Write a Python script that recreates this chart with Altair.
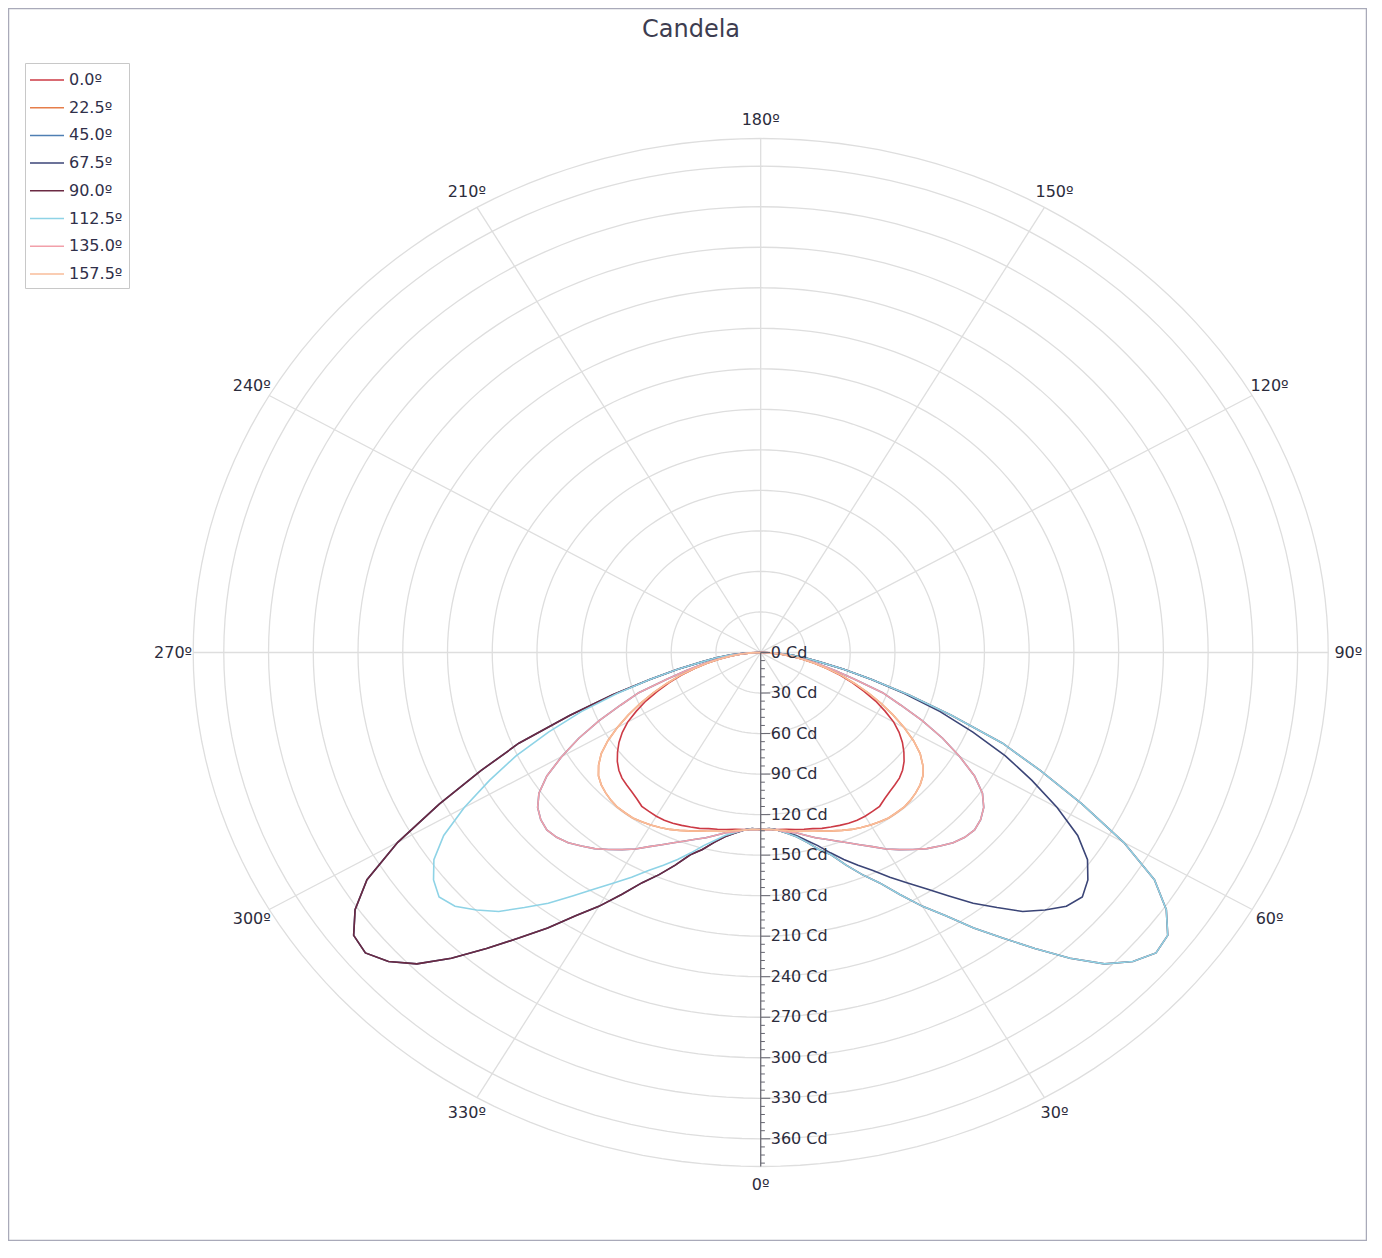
import altair as alt
import pandas as pd

TITLE = "Candela"
PLANES = ["0.0º", "22.5º", "45.0º", "67.5º", "90.0º", "112.5º", "135.0º", "157.5º"]
COLORS = ["#cc3a45", "#e67e4a", "#4f7fb3", "#3b4577", "#6b2a43", "#8ed3e6", "#f2a0aa", "#f9bd9a"]

# vertical angle (gamma) of each reading, degrees from nadir
GAMMA = [0, 2.5, 5, 7.5, 10, 12.5, 15, 17.5, 20, 22.5, 25, 27.5, 30, 32.5, 35, 37.5,
         40, 42.5, 45, 47.5, 50, 52.5, 55, 57.5, 60, 62.5, 65, 67.5, 70, 72.5, 75,
         77.5, 80, 82.5, 85, 87.5, 90]

# intensity profiles (cd)
PROFILE_A = [131, 131, 131.5, 132, 133, 134, 135, 136.5, 137.5, 138.5, 139.5, 140, 140, 139.5,
             139, 136.5, 134.5, 133, 131.5, 129, 125.5, 121, 116, 110, 103, 94, 85, 75, 65.5,
             56, 46, 37, 28, 20, 13, 6.5, 0]
PROFILE_B = [131, 131, 132, 133, 134.5, 135.5, 137, 138.5, 140.5, 142.5, 144.5, 146, 147.5, 148.5,
             149.5, 149.5, 149.5, 148.5, 147, 145, 142, 137, 130.5, 121.5, 111, 100, 89, 78, 67,
             57, 46.5, 37, 28.5, 20.5, 13, 6.5, 0]
PROFILE_C = [131, 131, 132, 134, 135.5, 138.5, 142, 145, 148.5, 152.5, 157, 162, 168, 173, 178,
             183, 187, 191, 193.5, 194.5, 192.5, 188.5, 181.5, 170, 154, 137.5, 119.5, 101.5, 87,
             66, 52, 40, 30, 21.5, 14, 7, 0]
PROFILE_D = [131, 130.5, 132, 134.5, 137.5, 142.5, 148, 155.5, 163, 170.5, 178, 187.5, 197, 207.5,
             220, 234, 246.5, 260, 269.5, 278, 281.5, 276.5, 267.5, 252, 229.5, 205, 181, 154, 128,
             101, 77, 57, 40, 30, 20, 10, 0]
PROFILE_E = [131, 130.5, 132, 135, 138.5, 144, 151, 157, 167.5, 178, 188, 202, 217, 231, 249,
             266.5, 286, 307, 326, 338.5, 346, 344, 332, 313, 281, 243, 207, 175.5, 136, 104, 77,
             57, 40, 30, 20, 10, 0]
PROFILES = {"A": PROFILE_A, "B": PROFILE_B, "C": PROFILE_C, "D": PROFILE_D, "E": PROFILE_E}

# which profile each C-plane shows on the right (C) and left (C+180) half
RIGHT_SIDE = ["A", "B", "C", "D", "E", "E", "C", "B"]
LEFT_SIDE = ["A", "B", "C", "E", "E", "D", "C", "B"]

RINGS = [30, 60, 90, 120, 150, 180, 210, 240, 270, 300, 330, 360, 380.5]
R_MAX = 380.5
SPOKES = [0, 30, 60, 90, 120, 150, 180, 210, 240, 270, 300, 330]
CD_LABELS = [0, 30, 60, 90, 120, 150, 180, 210, 240, 270, 300, 330, 360]
CD_TICKS = [6 * k for k in range(64)]
LABEL_R = 394

W, H = 1135, 1028
XS = alt.Scale(domain=[-R_MAX, R_MAX], nice=False, zero=False)
YS = alt.Scale(domain=[-R_MAX, R_MAX], nice=False, zero=False)
FONT = "DejaVu Sans"
FS = 16


def X(f):
    return alt.X(f, type="quantitative", scale=XS, axis=None)


def Y(f):
    return alt.Y(f, type="quantitative", scale=YS, axis=None)


# ---- curve table
rows = []
for i, p in enumerate(PLANES):
    for side, prof in (("R", RIGHT_SIDE[i]), ("L", LEFT_SIDE[i])):
        for g, v in zip(GAMMA, PROFILES[prof]):
            rows.append({"plane": p, "side": side, "gamma": g, "cd": v})
curves = pd.DataFrame(rows)

# ---- grid
ring_rows = [{"r": r, "a": a} for r in RINGS for a in range(0, 361, 2)]
rings = (
    alt.Chart(pd.DataFrame(ring_rows))
    .transform_calculate(px="datum.r * sin(datum.a * PI / 180)",
                         py="-datum.r * cos(datum.a * PI / 180)")
    .mark_line(stroke="#dedede", strokeWidth=1.3)
    .encode(x=X("px"), y=Y("py"), detail="r:Q", order="a:Q")
)

spokes = (
    alt.Chart(pd.DataFrame({"a": SPOKES}))
    .transform_calculate(x0="0", y0="0",
                         px=f"{R_MAX} * sin(datum.a * PI / 180)",
                         py=f"-{R_MAX} * cos(datum.a * PI / 180)")
    .mark_rule(stroke="#dedede", strokeWidth=1.3)
    .encode(x=X("x0"), y=Y("y0"), x2="px:Q", y2="py:Q")
)

color = alt.Color(
    "plane:N",
    scale=alt.Scale(domain=PLANES, range=COLORS),
    legend=alt.Legend(
        title=None, orient="none", legendX=-168.2, legendY=-75.5, direction="vertical",
        symbolType="M-1.7,0H1.7", symbolSize=400, symbolStrokeWidth=1.5, symbolOffset=5,
        symbolFillColor="transparent",
        labelFont=FONT, labelFontSize=FS, labelColor="#30304a", labelOffset=11,
        strokeColor="#c8c8c8", fillColor="#ffffff", padding=6, rowPadding=8.7,
        cornerRadius=0,
    ),
)

curve_base = (
    alt.Chart(curves)
    .transform_calculate(
        ang="datum.side == 'R' ? datum.gamma : 360 - datum.gamma",
        ord="datum.side == 'R' ? 90 - datum.gamma : 90 + datum.gamma",
    )
    .transform_calculate(
        px="datum.cd * sin(datum.ang * PI / 180)",
        py="-datum.cd * cos(datum.ang * PI / 180)",
    )
)
curve_layers = [
    curve_base.transform_filter(alt.datum.plane == p)
    .mark_line(strokeWidth=1.6)
    .encode(x=X("px"), y=Y("py"), color=color, order="ord:Q")
    for p in PLANES
]

# ---- radial axis
axis_line = (
    alt.Chart(pd.DataFrame({"v": [R_MAX]}))
    .transform_calculate(x0="0", y0="0", y1="-datum.v")
    .mark_rule(stroke="#666670", strokeWidth=1.2)
    .encode(x=X("x0"), y=Y("y0"), y2="y1:Q")
)
ticks = (
    alt.Chart(pd.DataFrame({"t": CD_TICKS}))
    .transform_calculate(x0="0", x1="datum.t % 30 == 0 ? 6.4 : 2.8", py="-datum.t")
    .mark_rule(stroke="#666670", strokeWidth=1)
    .encode(x=X("x0"), x2="x1:Q", y=Y("py"))
)
cd_labels = (
    alt.Chart(pd.DataFrame({"v": CD_LABELS}))
    .transform_calculate(x0="0", py="-datum.v", label="datum.v + ' Cd'")
    .mark_text(align="left", baseline="middle", dx=10, font=FONT, fontSize=FS, color="#2c2c3c")
    .encode(x=X("x0"), y=Y("py"), text="label:N")
)
angle_labels = (
    alt.Chart(pd.DataFrame({"a": SPOKES}))
    .transform_calculate(px=f"{LABEL_R} * sin(datum.a * PI / 180)",
                         py=f"-{LABEL_R} * cos(datum.a * PI / 180)",
                         label="datum.a + 'º'")
    .mark_text(align="center", baseline="middle", font=FONT, fontSize=FS, color="#2c2c3c")
    .encode(x=X("px"), y=Y("py"), text="label:N")
)

title = (
    alt.Chart(pd.DataFrame({"t": [TITLE]}))
    .mark_text(align="center", baseline="middle", font=FONT, fontSize=24, color="#3d3d50")
    .encode(text="t:N", x=alt.value(497.8), y=alt.value(-108.5))
)
frame = (
    alt.Chart(pd.DataFrame({"k": [0]}))
    .mark_rect(fillOpacity=0, stroke="#a9aab9", strokeWidth=1.5)
    .encode(x=alt.value(-184.7), x2=alt.value(1173.3), y=alt.value(-130), y2=alt.value(1102))
)

chart = (
    alt.layer(frame, rings, spokes, *curve_layers, axis_line, ticks, cd_labels, angle_labels, title)
    .properties(
        width=W, height=H,
        autosize=alt.AutoSizeParams(type="none"),
        padding={"left": 185.2, "top": 130.5, "right": 38.8, "bottom": 74.5},
    )
    .configure(font=FONT)
    .configure_view(stroke=None)
)

chart.save("out.html", embed_options={"renderer": "svg", "actions": False})
